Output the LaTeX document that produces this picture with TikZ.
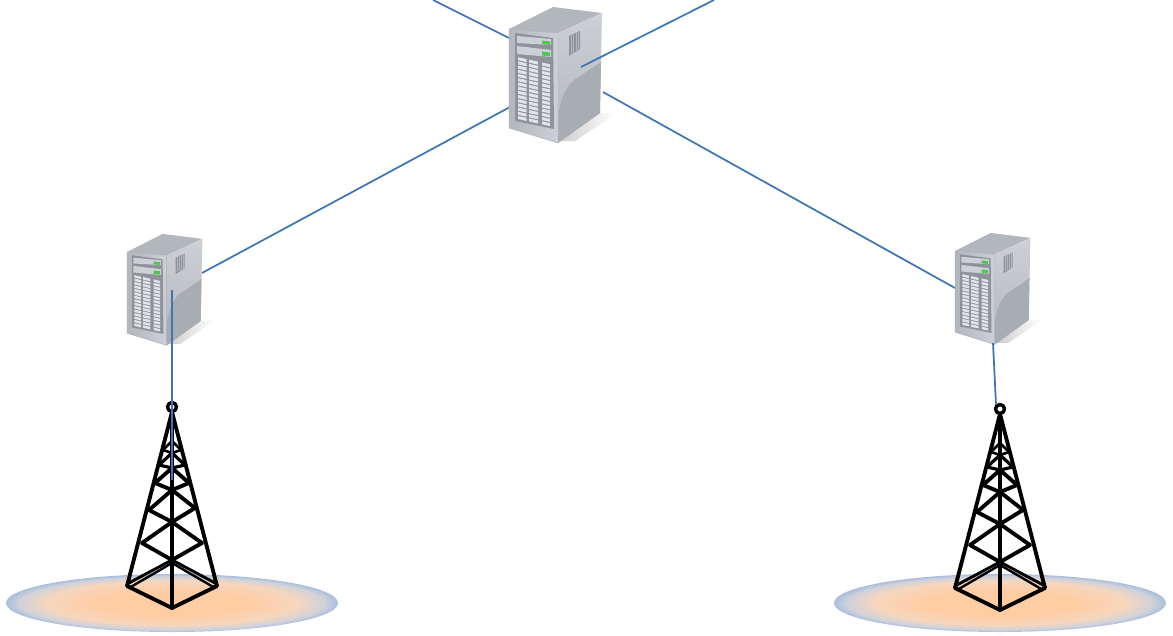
\documentclass[tikz,border=0pt]{standalone}
\usetikzlibrary{calc}
\definecolor{linkblue}{HTML}{3F74B5}
\definecolor{caseA}{HTML}{CDD0D6}
\definecolor{caseB}{HTML}{B2B6BD}
\definecolor{caseC}{HTML}{A8ACB3}
\definecolor{caseD}{HTML}{8E929A}
\definecolor{padA}{HTML}{FFCDA4}
\definecolor{padB}{HTML}{F6D6BE}
\definecolor{padC}{HTML}{D0D2DA}
\definecolor{padD}{HTML}{A9BEDD}
\pgfdeclareradialshading{padshade}{\pgfpointorigin}{%
  color(0bp)=(padA); color(11bp)=(padA); color(19bp)=(padB); color(23bp)=(padC); color(25bp)=(padD); color(100bp)=(padD)}
\tikzset{
  link/.style={draw=linkblue,line width=1.3pt},
  lattice/.style={draw=black,line width=2.9pt,line join=round,line cap=round},
  pad/.style={shading=padshade},
  server/.pic={
    % soft floor shadow
    \shade[left color=black!20,right color=white,draw=none] (49,112) -- (91,84) -- (108,84) -- (66,112) -- cycle;
    % top
    \fill[caseB] (0,0) -- (44,-22) -- (93,-16) -- (49,4) -- cycle;
    % side
    \shade[top color=caseA,bottom color=caseB] (49,4) -- (93,-16) -- (91,84) -- (49,114) -- cycle;
    \fill[caseC] (49,114) -- (49,88) .. controls (52,66) and (60,52) .. (70,48) -- (92,33) -- (91,84) -- cycle;
    % vent
    \fill[caseD] (60,7) -- (71,2) -- (71,20) -- (60,27) -- cycle;
    \foreach \vx in {62,64.5,67,69.5}
      \draw[caseB,line width=.3pt] (\vx,{6-(\vx-60)*.4}) -- (\vx,{26-(\vx-60)*.55});
    % front frame
    \shade[left color=caseB,right color=caseA,draw=caseC,line width=.3pt] (0,0) -- (49,4) -- (49,114) -- (0,99) -- cycle;
    % front panel
    \fill[caseD] (6,4) -- (44,9) -- (45,100) -- (6,92) -- cycle;
    % drive bays
    \fill[caseA] (8,7) -- (42,10) -- (42,16) -- (8,14) -- cycle;
    \fill[caseA] (8,17) -- (42,21) -- (42,28) -- (8,25) -- cycle;
    \fill[green!70!black!70!white] (33,11.5) -- (41,12.5) -- (41,16) -- (33,15) -- cycle;
    \fill[green!70!black!70!white] (33,22.5) -- (41,23.5) -- (41,27.5) -- (33,26.5) -- cycle;
    % disk grid
    \foreach \xa/\xb in {9/17.5,20/29,33/41}
      \foreach \i in {0,...,14}
        \fill[caseA!60!white]
          (\xa,{28+\i*4.2+(\xa-8)*.22}) -- (\xb,{28+\i*4.2+(\xb-8)*.22}) --
          (\xb,{31+\i*4.2+(\xb-8)*.22}) -- (\xa,{31+\i*4.2+(\xa-8)*.22}) -- cycle;
  },
  tower/.pic={
    \draw[lattice,line width=2.6pt] (172,407) circle (4.5);
    \draw[lattice] (172,412) -- (127,586) -- (172,608) -- (217,586) -- cycle;
    \draw[lattice] (172,412) -- (172,608);
    \draw[lattice,line width=2.2pt] (127,584) -- (172,560) -- (217,584);
    \draw[lattice,line width=1.8pt] (129,588) -- (172,563) -- (215,588);
    \draw[lattice] (142,543) -- (172,560) -- (202,543);
    \draw[lattice] (142,543) -- (172,522) -- (202,543);
    \draw[lattice] (149,510) -- (172,522) -- (195,508);
    \draw[lattice] (149,510) -- (172,490) -- (195,508);
    \draw[lattice] (155,483) -- (172,490) -- (189,483);
    \draw[lattice] (155,483) -- (172,468) -- (189,483);
    \draw[lattice,line width=2.4pt] (159,465) -- (172,468) -- (185,465);
    \draw[lattice,line width=2.4pt] (159,465) -- (172,453) -- (185,465);
    \draw[lattice,line width=2pt] (163,450) -- (172,453) -- (181,450);
    \draw[lattice,line width=2pt] (163,450) -- (172,441) -- (181,450);
  }
}
\begin{document}
\begin{tikzpicture}[x=.75pt,y=-.75pt]
\useasboundingbox (0,0) rectangle (1173,635);
% ground pads
\path[pad] (172,603) ellipse [x radius=166,y radius=29];
\path[pad] (1000,603) ellipse [x radius=166,y radius=29];
% connector free ends and attachment points
\coordinate (topleft) at (433,0);
\coordinate (topright) at (714,0);
\coordinate (coreNW) at (509,38);
\coordinate (coreIn) at (581,67);
\coordinate (coreSW) at (510,107);
\coordinate (coreSE) at (603,92);
\coordinate (leftNE) at (202,273);
\coordinate (leftIn) at (172,290);
\coordinate (rightW) at (955,288);
\coordinate (rightS) at (993,343);
\coordinate (leftTowerIn) at (172,480);
\coordinate (rightTowerTop) at (996,405);
% links that pass behind the servers
\draw[link] (topleft) -- (coreNW);
\draw[link] (coreSW) -- (leftNE);
\draw[link] (coreSE) -- (rightW);
% servers
\pic (core) at (509,29) {server};
\pic[xscale=.81,yscale=.82] (left) at (127,252) {server};
\pic[xscale=.81,yscale=.82] (right) at (955,251) {server};
% towers
\pic (ltower) at (0,0) {tower};
\pic (rtower) at (828,2) {tower};
% links drawn on top
\draw[link] (topright) -- (coreIn);
\draw[link] (leftIn) -- (leftTowerIn);
\draw[link] (rightS) -- (rightTowerTop);
\end{tikzpicture}
\end{document}
